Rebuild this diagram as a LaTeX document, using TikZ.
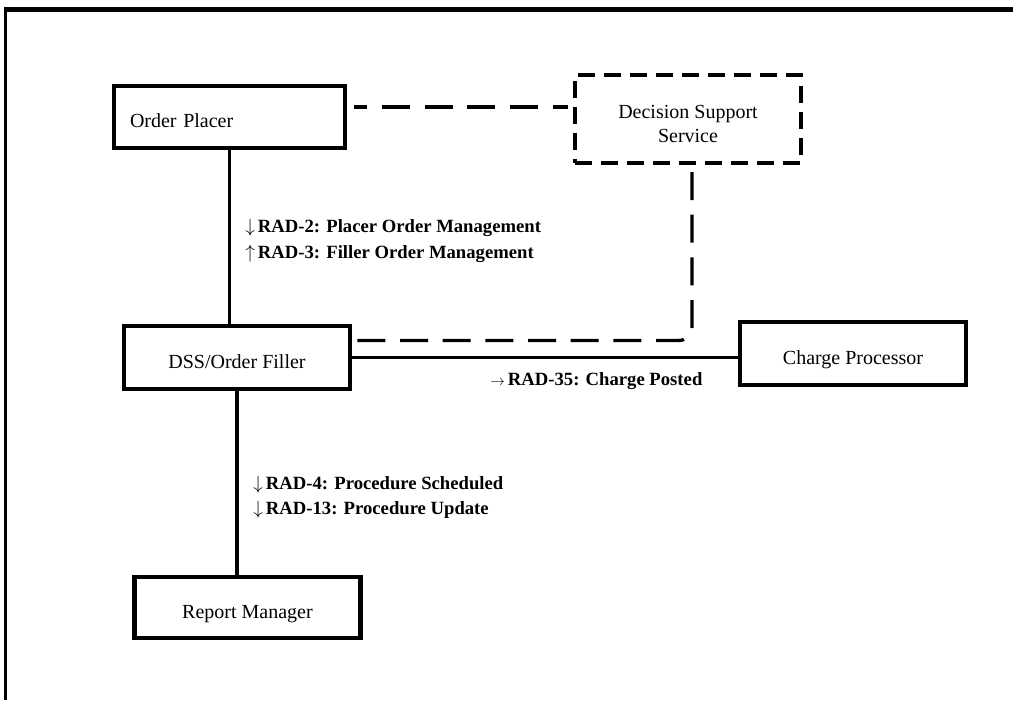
\documentclass[tikz,border=0pt]{standalone}
\usepackage{fontspec}
\setmainfont{Liberation Serif}
\usetikzlibrary{positioning,calc}

\begin{document}
\begin{tikzpicture}[
      x=0.75pt, y=-0.75pt,
      box/.style={draw=black, line width=3.2pt, fill=white, align=center, font=\fontsize{15}{18}\selectfont, minimum width=226*0.75pt, minimum height=63*0.75pt, inner sep=0pt, text height=16pt, text depth=0pt},
      dssbox/.style={box, dash pattern=on 13pt off 6.5pt, line width=3pt, text height=, text depth=},
      link/.style={line width=2.5pt, draw=black},
      dashlink/.style={link, dash pattern=on 21pt off 11pt},
      lbl/.style={align=left, anchor=west, inner sep=0pt, font=\fontsize{14}{19}\selectfont\bfseries}
      ]
      \useasboundingbox (0,0) rectangle (1013,700);

      % Frame
      \draw[line width=2.6pt] (5.5,700) -- (5.5,8);
      \draw[line width=3.8pt] (4,9.5) -- (1013,9.5);

      % Nodes
      \node (placer) [box, minimum width=231*0.75pt, minimum height=62*0.75pt, text width=199*0.75pt, align=left] at (229.5,117) {Order Placer};
      \node (dss) [dssbox, minimum height=88*0.75pt] at (688,119) {\rule{0pt}{18pt}Decision Support\\Service};
      \node (filler) [box] at (237,357.5) {DSS/Order Filler};
      \node (charge) [box] at (853,353.5) {Charge Processor};
      \node (report) [box, minimum height=61*0.75pt] at (247.5,607.5) {Report Manager};

      % Labels
      \node (lblorder) [lbl] at (245,241) {$\downarrow$\,RAD-2: Placer Order Management\\$\uparrow$\,RAD-3: Filler Order Management};
      \node (lblproc) [lbl] at (253,497) {$\downarrow$\,RAD-4: Procedure Scheduled\\$\downarrow$\,RAD-13: Procedure Update};
      \node (lblcharge) [lbl] at (490,381) {{\mdseries\fontsize{11}{11}\selectfont$\rightarrow$}\,RAD-35: Charge Posted};

      % Lines
      \draw [link] (placer.south) -- (placer.south |- filler.north);
      \draw [link] (filler.south) -- (filler.south |- report.north);
      \draw [link] (filler.east) -- (filler.east -| charge.west);
      \draw [dashlink, dash phase=11pt] ($(placer.east)+(7,-10)$) -- ($(dss.west)+(-5,-12)$);
      \draw [dashlink, rounded corners=10] ($(dss.south)+(4,7)$) |- ($(filler.east)+(4,-17)$);

    \end{tikzpicture}
\end{document}
